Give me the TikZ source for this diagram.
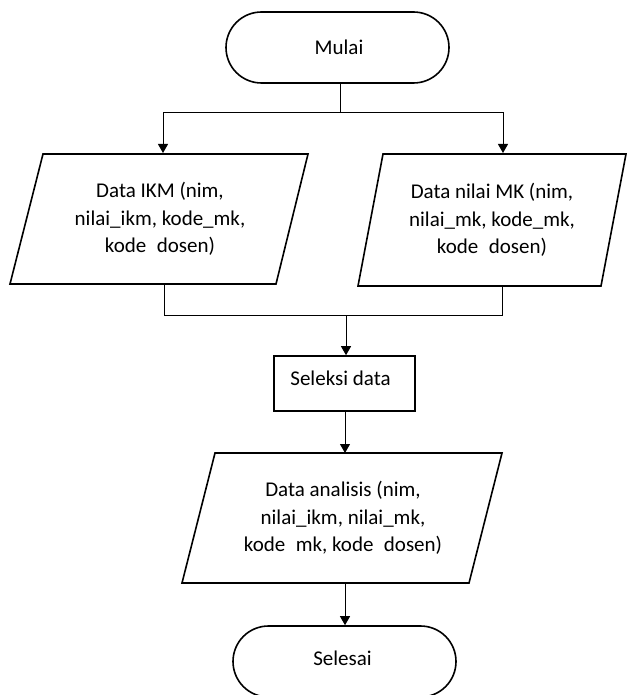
\documentclass[tikz,border=0pt]{standalone}
\usepackage{fontspec}
\setmainfont{Carlito}
\usetikzlibrary{shapes.misc,arrows.meta}

\tikzset{
  outline/.style={draw=black, line width=1.6pt},
  terminal/.style={outline, rounded rectangle, minimum width=223pt, minimum height=71pt, inner sep=0pt},
  process/.style={outline, rectangle, minimum width=141pt, minimum height=55pt, inner sep=0pt},
  link/.style={draw=black, line width=1pt},
  arrow/.style={link, -{Triangle[width=10pt,length=9pt]}},
  label/.style={font=\fontsize{21}{27.5}\selectfont, align=center, inner sep=0pt}
}

% parallelogram around a named node: #1 node, #2 half height,
% #3 top-left dx, #4 top-right dx, #5 bottom-right dx, #6 bottom-left dx
\newcommand{\iooutline}[6]{%
  \draw[outline, line join=miter]
    ([shift={(#3,-#2)}]#1.center) -- ([shift={(#4,-#2)}]#1.center) --
    ([shift={(#5,#2)}]#1.center) -- ([shift={(#6,#2)}]#1.center) -- cycle;}

\begin{document}
\begin{tikzpicture}[x=1pt, y=-1pt]
  \useasboundingbox (0,0) rectangle (627,695);
  \clip (0,0) rectangle (627,695);

  % start terminal
  \node[terminal] (mulai) at (337.5,47.5) {};
  \node[label] (mulaiTxt) at (339,47) {Mulai};

  % input data blocks
  \node[label] (ikm) at (160,219) {Data IKM (nim,\\nilai\_ikm, kode\_mk,\\kode\phantom{\_}dosen)};
  \iooutline{ikm}{65}{-117}{148}{116}{-150}

  \node[label] (nilai) at (492,220) {Data nilai MK (nim,\\nilai\_mk, kode\_mk,\\kode\phantom{\_}dosen)};
  \iooutline{nilai}{66}{-109}{134}{109}{-134}

  % selection step
  \node[process] (seleksi) at (344.5,383.5) {};
  \node[label] (seleksiTxt) at (340.5,378) {Seleksi data};

  % output data block
  \node[label] (analisis) at (343,518) {Data analisis (nim,\\nilai\_ikm, nilai\_mk,\\kode\phantom{\_}mk, kode\phantom{\_}dosen)};
  \iooutline{analisis}{65}{-128}{159}{126}{-161}

  % end terminal
  \node[terminal] (selesai) at (344.5,661.5) {};
  \node[label] (selesaiTxt) at (342.5,658) {Selesai};

  % branch and join points
  \coordinate (fork) at (340,113);
  \coordinate (join) at (346,315);
  \coordinate (ikmIn) at (163,153);
  \coordinate (nilaiIn) at (503,153);
  \coordinate (ikmOut) at (164,283);
  \coordinate (nilaiOut) at (502,285);
  \coordinate (analisisIn) at (345,453);
  \coordinate (analisisOut) at (345,583);

  % connectors
  \draw[link] (mulai.south -| fork) -- (fork);
  \draw[arrow] (fork) -| (ikmIn);
  \draw[arrow] (fork) -| (nilaiIn);
  \draw[link] (ikmOut) |- (join);
  \draw[link] (nilaiOut) |- (join);
  \draw[arrow] (join) -- (join |- seleksi.north);
  \draw[arrow] (seleksi.south -| analisisIn) -- (analisisIn);
  \draw[arrow] (analisisOut) -- (analisisOut |- selesai.north);
\end{tikzpicture}
\end{document}
